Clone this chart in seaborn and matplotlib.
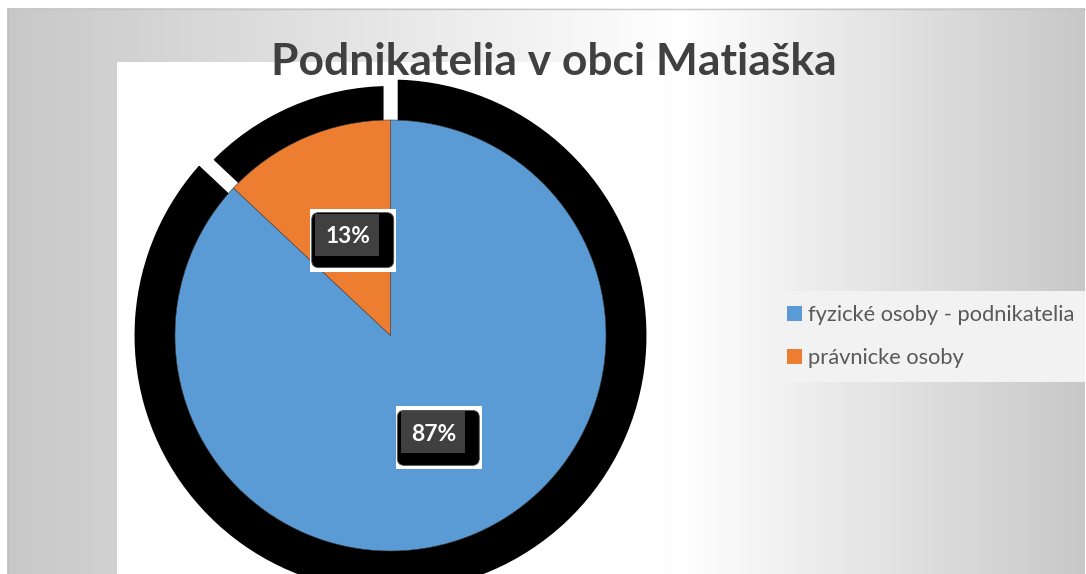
import numpy as np
import matplotlib
matplotlib.use("Agg")
import matplotlib.pyplot as plt
import matplotlib.transforms as mtransforms
from matplotlib.patches import Rectangle, FancyBboxPatch
import seaborn as sns

# ---------------- data ----------------
title = "Podnikatelia v obci Matiaška"
categories = ["fyzické osoby - podnikatelia", "právnicke osoby"]
values = [87, 13]
colors = ["#5B9BD5", "#ED7D31"]

sns.set_theme(style="white")
plt.rcParams["font.family"] = ["Lato", "DejaVu Sans"]

W, H = 1086, 574
fig = plt.figure(figsize=(W / 100, H / 100), dpi=100)
fig.patch.set_facecolor("white")

# ---------------- background (gradient chart area) ----------------
bg = fig.add_axes([0, 0, 1, 1])
bg.set_xlim(0, W)
bg.set_ylim(H, 0)
bg.axis("off")
Xg, Yg = np.meshgrid(np.arange(W) + 0.5, np.arange(H) + 0.5)
xw = 680.0
d = np.where(Xg < xw, (xw - Xg) / (xw - 7), (Xg - xw) / (1085 - xw))
d = np.clip(d, 0, 1)
g = (255 - 55 * d) / 255
bg.imshow(np.dstack([g, g, g]), extent=[0, W, H, 0], aspect="auto", interpolation="bilinear", zorder=0)
bg.add_patch(Rectangle((0, 0), W, 8, facecolor="white", edgecolor="none", zorder=1))
bg.add_patch(Rectangle((0, 0), 7, H, facecolor="white", edgecolor="none", zorder=1))
bg.add_patch(Rectangle((1085, 0), 2, H, facecolor="white", edgecolor="none", zorder=1))
bg.plot([7, 1085], [8.5, 8.5], color="#c6c6c6", lw=1, zorder=2)
bg.plot([7.5, 7.5], [8, H], color="#c0c0c0", lw=1, zorder=2)
# white plot area
bg.add_patch(Rectangle((117, 62), 665 - 117, H - 62, facecolor="white", edgecolor="none", zorder=2))

# ---------------- pie ----------------
cx, cy, R = 390.5, 335.5, 215.5
half = 300
ax = fig.add_axes([(cx - half) / W, (H - cy - half) / H, 2 * half / W, 2 * half / H])
ax.patch.set_alpha(0)

# shadow
sh, _ = ax.pie(values, radius=1.22, startangle=90, counterclock=False,
               colors=["black", "black"],
               wedgeprops=dict(edgecolor="white", linewidth=10))
sh[1].set_radius(1.19)

wedges, texts, autotexts = ax.pie(
    values, startangle=90, counterclock=False, colors=colors, radius=1,
    autopct=lambda p: f"{p:.0f}%", pctdistance=0.5,
    wedgeprops=dict(edgecolor="#3a3a3a", linewidth=0.4),
    textprops=dict(color="white", fontweight="bold", fontsize=17))
lim = half / R
ax.set_xlim(-lim, lim)
ax.set_ylim(-lim, lim)
ax.axis("off")

renderer = fig.canvas.get_renderer()


def fit(t, target):
    w = t.get_window_extent(renderer).width
    t.set_fontsize(t.get_fontsize() * target / w)


for at in autotexts:
    fit(at, 45)
    at.set_zorder(8)
    x, y = at.get_position()
    tr = fig.dpi_scale_trans + mtransforms.ScaledTranslation(x, y, ax.transData)
    ax.add_patch(Rectangle((-0.375, -0.35), 0.86, 0.63, transform=tr,
                           facecolor="white", edgecolor="none", zorder=5))
    ax.add_patch(FancyBboxPatch((-0.36, -0.31), 0.82, 0.55, transform=tr,
                                boxstyle="round,pad=0,rounding_size=0.07",
                                facecolor="black", edgecolor="#555555", lw=0.6, zorder=6))
    ax.add_patch(Rectangle((-0.325, -0.19), 0.64, 0.42, transform=tr,
                           facecolor="#404040", edgecolor="none", zorder=7))

# ---------------- title ----------------
tt = fig.text(553.5 / W, (H - 75) / H, title, ha="center", va="baseline",
              fontsize=30, fontweight="bold", color="#404040")
fit(tt, 565)

# ---------------- legend ----------------
probe = fig.text(0, 0, categories[0], fontsize=14)
fit(probe, 269)
lfs = probe.get_fontsize()
probe.remove()

leg = fig.legend(wedges, categories, loc="upper left",
                 bbox_to_anchor=(773 / W, (H - 382) / H, (1085 - 773) / W, 91 / H),
                 mode="expand", frameon=True, fancybox=False, facecolor="#f2f2f2",
                 edgecolor="none", framealpha=1, fontsize=lfs,
                 handlelength=0.68, handleheight=0.68, handletextpad=0.25,
                 labelspacing=1.05, borderpad=0.65, borderaxespad=0)
for t in leg.get_texts():
    t.set_color("#595959")
for h in leg.legend_handles:
    h.set_edgecolor("none")

fig.savefig("out.png", dpi=100)
